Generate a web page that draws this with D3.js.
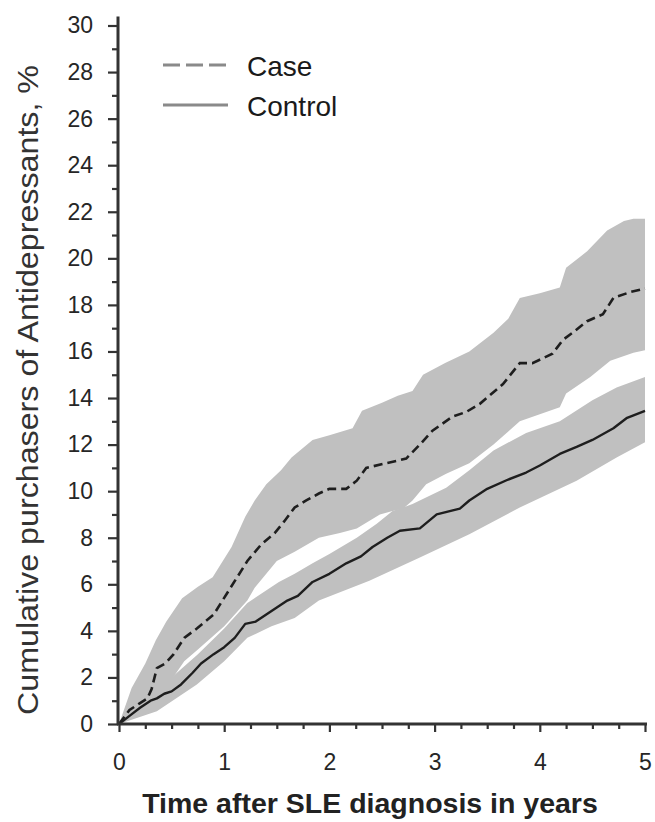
<!DOCTYPE html>
<html>
<head>
<meta charset="utf-8">
<script src="https://cdn.jsdelivr.net/npm/d3@7"></script>
<style>
  html, body { margin: 0; padding: 0; background: #fff; }
  svg { display: block; }
  text { font-family: "Liberation Sans", Arial, Helvetica, sans-serif; }
</style>
</head>
<body>
<svg id="chart" width="655" height="822"></svg>
<script>
// ---------- data (time in years, value in %) ----------
const caseLine = [
  [0,0],[0.1,0.6],[0.2,0.9],[0.27,1.1],[0.31,1.5],[0.36,2.4],[0.44,2.6],[0.52,3.0],
  [0.62,3.7],[0.74,4.1],[0.9,4.7],[1.06,5.85],[1.22,7.0],[1.35,7.7],[1.48,8.2],
  [1.57,8.7],[1.67,9.3],[1.78,9.6],[1.9,9.9],[2.0,10.1],[2.16,10.1],[2.26,10.45],
  [2.35,11.0],[2.54,11.2],[2.73,11.4],[2.86,12.0],[2.98,12.6],[3.17,13.2],[3.3,13.4],
  [3.43,13.75],[3.65,14.6],[3.81,15.5],[3.93,15.5],[4.12,15.9],[4.22,16.5],[4.31,16.8],
  [4.45,17.3],[4.6,17.6],[4.7,18.3],[4.86,18.55],[5.0,18.7]
];
const caseUpper = [
  [0,0],[0.12,1.55],[0.25,2.6],[0.35,3.6],[0.45,4.4],[0.6,5.4],[0.75,5.9],[0.89,6.3],
  [1.07,7.6],[1.2,8.9],[1.29,9.6],[1.4,10.3],[1.54,10.9],[1.64,11.45],[1.84,12.2],
  [2.0,12.4],[2.22,12.7],[2.31,13.45],[2.5,13.8],[2.65,14.1],[2.79,14.3],[2.89,15.0],
  [3.1,15.5],[3.33,16.0],[3.56,16.8],[3.7,17.4],[3.81,18.3],[4.0,18.5],[4.19,18.75],
  [4.25,19.6],[4.45,20.3],[4.64,21.2],[4.8,21.6],[4.89,21.7],[5.0,21.7]
];
const caseLower = [
  [0,0],[0.25,0.6],[0.5,1.9],[0.62,2.7],[0.75,3.2],[1.0,4.2],[1.22,5.3],[1.29,5.85],
  [1.5,7.0],[1.67,7.4],[1.9,8.0],[2.1,8.2],[2.26,8.4],[2.48,9.0],[2.6,9.15],[2.7,9.25],
  [2.79,9.6],[2.92,10.3],[3.11,10.75],[3.33,11.2],[3.56,12.0],[3.81,13.0],[4.0,13.3],
  [4.19,13.6],[4.25,14.2],[4.48,14.9],[4.67,15.6],[4.89,15.95],[5.0,16.05]
];
const controlLine = [
  [0,0],[0.1,0.35],[0.2,0.7],[0.3,1.0],[0.36,1.1],[0.43,1.3],[0.5,1.4],[0.59,1.7],
  [0.7,2.2],[0.78,2.6],[0.9,3.0],[1.0,3.3],[1.1,3.7],[1.2,4.3],[1.3,4.4],[1.4,4.7],
  [1.5,5.0],[1.6,5.3],[1.7,5.5],[1.84,6.1],[2.0,6.45],[2.16,6.9],[2.3,7.2],[2.41,7.6],
  [2.55,8.0],[2.67,8.3],[2.86,8.4],[3.02,9.0],[3.24,9.25],[3.33,9.6],[3.5,10.1],
  [3.7,10.5],[3.87,10.8],[4.0,11.1],[4.19,11.6],[4.35,11.9],[4.5,12.2],[4.7,12.7],
  [4.83,13.15],[5.0,13.45]
];
const controlUpper = [
  [0,0],[0.25,0.9],[0.5,2.0],[0.75,3.0],[1.0,4.1],[1.22,5.2],[1.52,6.1],[1.67,6.45],
  [1.84,6.9],[2.0,7.3],[2.26,8.0],[2.45,8.6],[2.6,9.15],[2.7,9.3],[2.79,9.45],
  [3.11,10.15],[3.33,10.9],[3.56,11.75],[3.87,12.5],[4.19,13.0],[4.5,13.9],[4.73,14.45],
  [5.0,14.9]
];
const controlLower = [
  [0,0],[0.36,0.55],[0.74,1.7],[1.0,2.7],[1.22,3.7],[1.45,4.2],[1.67,4.55],[1.9,5.3],
  [2.38,6.15],[2.86,7.15],[3.33,8.15],[3.81,9.3],[4.35,10.45],[4.73,11.45],[5.0,12.1]
];
const xMajorTicks = [0,1,2,3,4,5];
const xMinorTicks = [0.25,0.5,0.75,1.25,1.5,1.75,2.25,2.5,2.75,3.25,3.5,3.75,4.25,4.5,4.75];
const yMajorTicks = [0,2,4,6,8,10,12,14,16,18,20,22,24,26,28,30];
const yMinorTicks = [1,3,5,7,9,11,13,15,17,19,21,23,25,27,29];
const legendLabels = ["Case","Control"];
const xTitle = "Time after SLE diagnosis in years";
const yTitle = "Cumulative purchasers of Antidepressants, %";

// ---------- layout ----------
const svg = d3.select("#chart");
const x = d3.scaleLinear().domain([0,5]).range([119,645]);
const y = d3.scaleLinear().domain([0,30]).range([724,25.5]);
const axisColor = "#333";
const bandColor = "#c0c0c0";
const lineColor = "#1e1e1e";

const lineGen = d3.line().x(d => x(d[0])).y(d => y(d[1]));
function bandPath(upper, lower) {
  return lineGen(upper.concat(lower.slice().reverse())) + "Z";
}

// bands
svg.append("path").attr("d", bandPath(caseUpper, caseLower)).attr("fill", bandColor);
svg.append("path").attr("d", bandPath(controlUpper, controlLower)).attr("fill", bandColor);

// lines
svg.append("path").attr("d", lineGen(controlLine))
  .attr("fill","none").attr("stroke",lineColor).attr("stroke-width",2.4)
  .attr("stroke-linejoin","round");
svg.append("path").attr("d", lineGen(caseLine))
  .attr("fill","none").attr("stroke",lineColor).attr("stroke-width",2.6)
  .attr("stroke-dasharray","9,5");

// axes
const gx = svg.append("g").attr("transform",`translate(0,${y(0)})`);
gx.call(d3.axisBottom(x).tickValues(xMajorTicks).tickSize(8).tickPadding(22).tickFormat(d3.format("d")));
gx.append("g").call(d3.axisBottom(x).tickValues(xMinorTicks).tickSize(5).tickFormat(""));
const gy = svg.append("g").attr("transform",`translate(${x(0)-1},0)`);
gy.call(d3.axisLeft(y).tickValues(yMajorTicks).tickSize(10).tickPadding(15).tickFormat(d3.format("d")));
gy.append("g").call(d3.axisLeft(y).tickValues(yMinorTicks).tickSize(6).tickFormat(""));

svg.selectAll(".domain").remove();
svg.selectAll(".tick line").attr("stroke",axisColor).attr("stroke-width",2.2);
svg.selectAll(".tick text").attr("fill","#262626").attr("font-size",23)
  .attr("font-family","'Liberation Sans', Arial, sans-serif");

// spines
svg.append("line").attr("x1",x(0)-2).attr("x2",x(5)+2).attr("y1",y(0)).attr("y2",y(0))
  .attr("stroke",axisColor).attr("stroke-width",3);
svg.append("line").attr("x1",x(0)-1).attr("x2",x(0)-1).attr("y1",y(0)+1).attr("y2",y(30)-9)
  .attr("stroke",axisColor).attr("stroke-width",3);

// titles
svg.append("text").attr("x",370).attr("y",813).attr("text-anchor","middle")
  .attr("font-size",28.5).attr("font-weight","bold").attr("fill","#222").text(xTitle);
svg.append("text").attr("transform","translate(38,390) rotate(-90)").attr("text-anchor","middle")
  .attr("font-size",30).attr("fill","#333")
  .attr("textLength",650).attr("lengthAdjust","spacingAndGlyphs").text(yTitle);

// legend
const legY = [65,105];
const leg = svg.append("g");
legendLabels.forEach((lab,i) => {
  leg.append("line").attr("x1",163).attr("x2",228).attr("y1",legY[i]).attr("y2",legY[i])
    .attr("stroke","#8a8a8a").attr("stroke-width",3)
    .attr("stroke-dasharray", i === 0 ? "17,6" : null);
  leg.append("text").attr("x",247).attr("y",legY[i]+11).attr("font-size",28)
    .attr("fill","#1a1a1a").text(lab);
});
</script>
</body>
</html>
